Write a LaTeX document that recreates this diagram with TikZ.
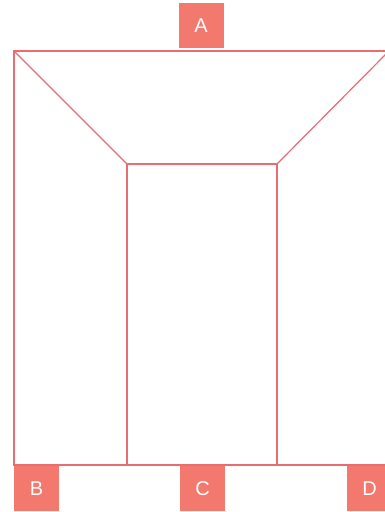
\documentclass[tikz,border=0pt]{standalone}
\usepackage{fontspec}
\setmainfont{Liberation Sans}
\definecolor{boxred}{RGB}{243,120,110}
\definecolor{linered}{RGB}{232,108,112}
\begin{document}
\begin{tikzpicture}[x=1pt,y=1pt,
  tag/.style={fill=boxred,draw=none,minimum width=45pt,minimum height=45pt,inner sep=0pt,text=white,font=\fontsize{20}{20}\selectfont},
  edge/.style={draw=linered,line width=1.2pt,line join=miter}]
\useasboundingbox (0,0) rectangle (385,512);
\clip (0,0) rectangle (385,512);
\fill[white] (0,0) rectangle (385,512);
% corners
\coordinate (otl) at (14,461);
\coordinate (otr) at (389,461);
\coordinate (obr) at (389,47);
\coordinate (obl) at (14,47);
\coordinate (itl) at (127,348);
\coordinate (itr) at (277,348);
\coordinate (ibl) at (127,47);
\coordinate (ibr) at (277,47);
\draw[edge] (otl) -- (otr) -- (obr) -- (obl) -- cycle;
\draw[edge] (otl) -- (itl);
\draw[edge] (otr) -- (itr);
\draw[edge] (ibl) -- (itl) -- (itr) -- (ibr);
% tags
\node[tag] (A) at (201,486) {A};
\node[tag] (B) at (36.5,23) {B};
\node[tag] (C) at (202.5,23) {C};
\node[tag] (D) at (369.5,23) {D};
\end{tikzpicture}
\end{document}
